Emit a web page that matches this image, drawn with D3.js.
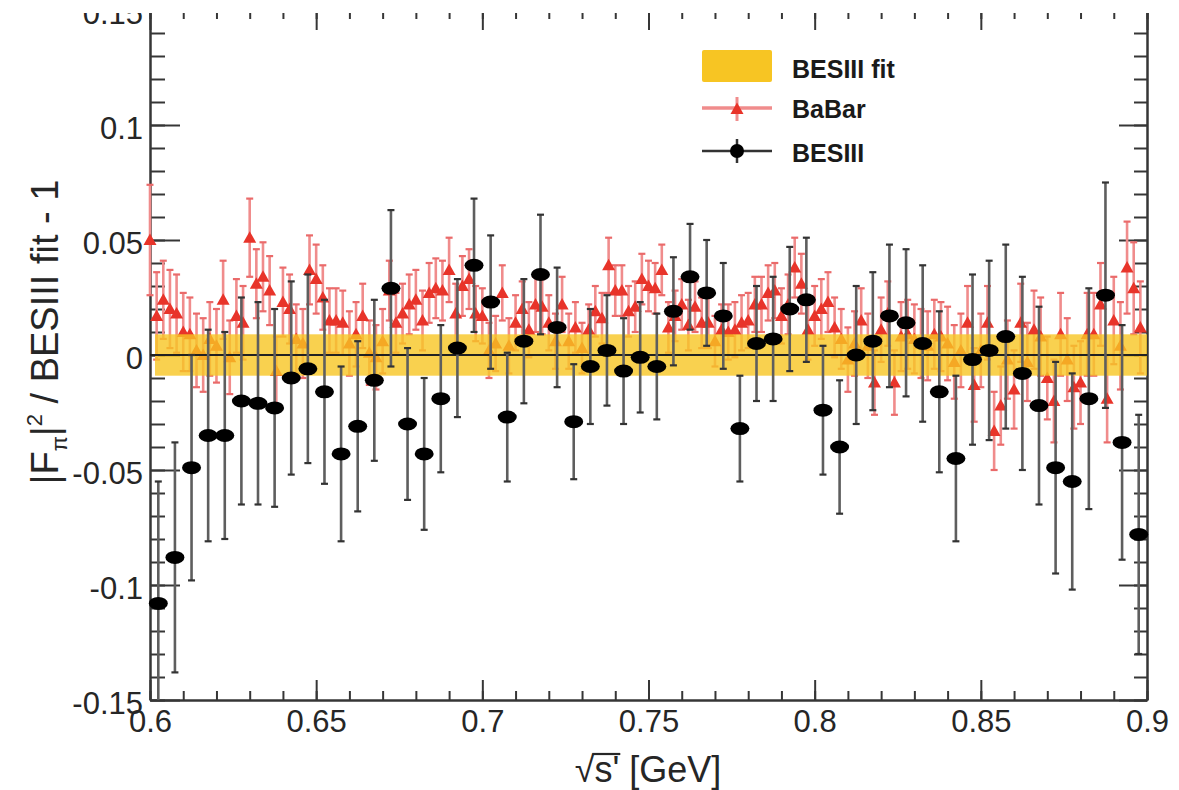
<!DOCTYPE html>
<html><head><meta charset="utf-8">
<script src="https://cdn.jsdelivr.net/npm/d3@7"></script>
<style>
html,body{margin:0;padding:0;background:#fff;}
svg{display:block;}
text{font-family:"Liberation Sans", Arial, Helvetica, sans-serif;}
</style></head><body>
<svg id="chart" width="1179" height="790"></svg>
<script>
// BESIII: bin centres [GeV], |F_pi|^2 / fit - 1, statistical error
const besiiiX = [0.6025,0.6075,0.6125,0.6175,0.6225,0.6275,0.6325,0.6375,0.6425,0.6475,
  0.6525,0.6575,0.6625,0.6675,0.6725,0.6775,0.6825,0.6875,0.6925,0.6975,
  0.7025,0.7075,0.7125,0.7175,0.7225,0.7275,0.7325,0.7375,0.7425,0.7475,
  0.7525,0.7575,0.7625,0.7675,0.7725,0.7775,0.7825,0.7875,0.7925,0.7975,
  0.8025,0.8075,0.8125,0.8175,0.8225,0.8275,0.8325,0.8375,0.8425,0.8475,
  0.8525,0.8575,0.8625,0.8675,0.8725,0.8775,0.8825,0.8875,0.8925,0.8975];
const besiiiY = [-0.108,-0.088,-0.049,-0.035,-0.035,-0.020,-0.021,-0.023,-0.010,-0.006,
  -0.016,-0.043,-0.031,-0.011,0.029,-0.030,-0.043,-0.019,0.003,0.039,
  0.023,-0.027,0.006,0.035,0.012,-0.029,-0.005,0.002,-0.007,-0.001,
  -0.005,0.019,0.034,0.027,0.017,-0.032,0.005,0.007,0.020,0.024,
  -0.024,-0.040,0.000,0.006,0.017,0.014,0.005,-0.016,-0.045,-0.002,
  0.002,0.008,-0.008,-0.022,-0.049,-0.055,-0.019,0.026,-0.038,-0.078];
const besiiiErr = [0.053,0.050,0.049,0.046,0.045,0.045,0.044,0.043,0.042,0.041,
  0.040,0.038,0.037,0.035,0.034,0.033,0.033,0.032,0.030,0.029,
  0.029,0.028,0.027,0.026,0.026,0.025,0.025,0.024,0.023,0.024,
  0.023,0.0235,0.023,0.023,0.023,0.023,0.025,0.027,0.027,0.027,
  0.028,0.029,0.030,0.030,0.031,0.032,0.034,0.035,0.036,0.037,
  0.039,0.040,0.042,0.043,0.046,0.047,0.048,0.049,0.051,0.052];

// BaBar: 2 MeV bins
const babarX = [0.600,0.602,0.604,0.606,0.608,0.610,0.612,0.614,0.616,0.618,
  0.620,0.622,0.624,0.626,0.628,0.630,0.632,0.634,0.636,0.638,
  0.640,0.642,0.644,0.646,0.648,0.650,0.652,0.654,0.656,0.658,
  0.660,0.662,0.664,0.666,0.668,0.670,0.672,0.674,0.676,0.678,
  0.680,0.682,0.684,0.686,0.688,0.690,0.692,0.694,0.696,0.698,
  0.700,0.702,0.704,0.706,0.708,0.710,0.712,0.714,0.716,0.718,
  0.720,0.722,0.724,0.726,0.728,0.730,0.732,0.734,0.736,0.738,
  0.740,0.742,0.744,0.746,0.748,0.750,0.752,0.754,0.756,0.758,
  0.760,0.762,0.764,0.766,0.768,0.770,0.772,0.774,0.776,0.778,
  0.780,0.782,0.784,0.786,0.788,0.790,0.792,0.794,0.796,0.798,
  0.800,0.802,0.804,0.806,0.808,0.810,0.812,0.814,0.816,0.818,
  0.820,0.822,0.824,0.826,0.828,0.830,0.832,0.834,0.836,0.838,
  0.840,0.842,0.844,0.846,0.848,0.850,0.852,0.854,0.856,0.858,
  0.860,0.862,0.864,0.866,0.868,0.870,0.872,0.874,0.876,0.878,
  0.880,0.882,0.884,0.886,0.888,0.890,0.892,0.894,0.896,0.898];
const babarY = [0.050,0.017,0.024,0.020,0.018,0.010,0.009,0.002,0.000,0.007,
  0.004,0.024,-0.001,0.017,0.014,0.051,0.031,0.034,0.028,-0.007,
  0.023,0.020,0.007,0.005,0.037,0.033,0.025,0.015,0.015,0.014,
  0.005,0.009,0.017,0.001,-0.001,0.006,0.028,0.014,0.018,0.022,
  0.024,0.015,0.027,0.029,0.028,0.037,0.018,0.030,0.033,0.018,
  0.017,0.002,0.005,0.027,0.004,0.014,0.020,0.011,0.022,0.021,
  0.014,0.006,0.022,0.006,0.012,0.003,0.011,0.019,0.016,0.039,
  0.028,0.028,0.019,0.021,0.033,0.030,0.029,0.037,0.012,0.017,
  0.022,0.013,0.021,0.014,0.014,0.006,0.011,0.010,0.011,0.014,
  0.015,0.022,0.022,0.027,0.028,0.017,0.022,0.038,0.031,0.011,
  0.017,0.020,0.023,0.012,0.007,-0.002,0.005,0.015,0.004,-0.012,
  0.011,0.018,-0.012,0.008,0.009,0.007,0.005,0.004,0.009,0.008,
  0.005,-0.003,0.002,0.014,-0.013,0.002,0.014,-0.033,-0.022,-0.002,
  -0.015,0.014,-0.003,0.011,0.008,-0.010,-0.020,0.009,-0.002,-0.014,
  -0.012,0.009,0.009,0.022,-0.019,0.015,0.004,0.038,0.029,0.012];
const babarErr = [0.024,0.019,0.017,0.017,0.017,0.017,0.016,0.016,0.016,0.016,
  0.016,0.017,0.016,0.016,0.016,0.017,0.015,0.015,0.015,0.015,
  0.015,0.015,0.015,0.015,0.015,0.015,0.014,0.014,0.014,0.014,
  0.014,0.014,0.014,0.014,0.014,0.014,0.013,0.013,0.013,0.013,
  0.013,0.013,0.013,0.013,0.013,0.014,0.013,0.013,0.013,0.012,
  0.012,0.012,0.012,0.012,0.012,0.012,0.012,0.012,0.012,0.012,
  0.012,0.012,0.012,0.012,0.011,0.011,0.011,0.011,0.011,0.012,
  0.011,0.011,0.011,0.011,0.011,0.011,0.011,0.011,0.011,0.011,
  0.011,0.011,0.011,0.011,0.011,0.011,0.011,0.012,0.012,0.012,
  0.012,0.012,0.012,0.012,0.012,0.012,0.013,0.013,0.013,0.013,
  0.013,0.013,0.013,0.013,0.013,0.014,0.014,0.014,0.014,0.014,
  0.014,0.014,0.014,0.015,0.015,0.015,0.015,0.015,0.015,0.015,
  0.016,0.016,0.016,0.016,0.016,0.016,0.016,0.017,0.017,0.017,
  0.017,0.017,0.017,0.017,0.017,0.018,0.018,0.018,0.018,0.018,
  0.018,0.018,0.018,0.018,0.019,0.019,0.019,0.020,0.020,0.020];

// BESIII fit uncertainty band
const bandRange = [0.6015, 0.9];
const bandHalfWidth = [0.009];

const xTicks = [0.6,0.65,0.7,0.75,0.8,0.85,0.9];
const xTickLabels = ["0.6","0.65","0.7","0.75","0.8","0.85","0.9"];
const yTicks = [-0.15,-0.1,-0.05,0,0.05,0.1,0.15];
const yTickLabels = ["-0.15","-0.1","-0.05","0","0.05","0.1","0.15"];
const legendLabels = ["BESIII fit","BaBar","BESIII"];

const W = 1179, H = 790;
const svg = d3.select("#chart");
const x = d3.scaleLinear().domain([0.6, 0.9]).range([150, 1147]);
const y = d3.scaleLinear().domain([-0.15, 0.15]).range([700, 10]);

const AX = "#363636", TXT = "#262626";
const YELLOW = "#f7c523", RED = "#e8342a", PINK = "#f08c8c";

const xMinor = d3.range(0, 31).map(i => 0.6 + i * 0.01);
const yMinor = d3.range(0, 31).map(i => -0.15 + i * 0.01);

function styleAxis(g) {
  g.selectAll("path.domain").attr("stroke", AX).attr("stroke-width", 2);
  g.selectAll(".tick line").attr("stroke", AX).attr("stroke-width", 2);
  g.selectAll(".tick text").attr("fill", TXT).style("font-size", "31px")
    .style("font-family", '"Liberation Sans", Arial, sans-serif');
}

// ---- axes (minor ticks first, then major ticks with labels)
const axes = svg.append("g");
axes.append("g").attr("transform", `translate(0,${y(-0.15)})`)
  .call(d3.axisBottom(x).tickValues(xMinor).tickSize(-9).tickSizeOuter(0).tickFormat(""))
  .call(styleAxis);
axes.append("g").attr("transform", `translate(0,${y(-0.15)})`)
  .call(d3.axisBottom(x).tickValues(xTicks).tickSize(-20).tickSizeOuter(0).tickPadding(10)
    .tickFormat((d, i) => xTickLabels[i]))
  .call(styleAxis);
axes.append("g").attr("transform", `translate(0,${y(0.15)})`)
  .call(d3.axisTop(x).tickValues(xMinor).tickSize(-9).tickSizeOuter(0).tickFormat(""))
  .call(styleAxis);
axes.append("g").attr("transform", `translate(0,${y(0.15)})`)
  .call(d3.axisTop(x).tickValues(xTicks).tickSize(-20).tickSizeOuter(0).tickFormat(""))
  .call(styleAxis);
axes.append("g").attr("transform", `translate(${x(0.6)},0)`)
  .call(d3.axisLeft(y).tickValues(yMinor).tickSize(-15).tickSizeOuter(0).tickFormat(""))
  .call(styleAxis);
axes.append("g").attr("transform", `translate(${x(0.6)},0)`)
  .call(d3.axisLeft(y).tickValues(yTicks).tickSize(-30).tickSizeOuter(0).tickPadding(7)
    .tickFormat((d, i) => yTickLabels[i]))
  .call(styleAxis)
  .call(g => g.selectAll(".tick text").attr("dy", "0.42em"));
axes.append("g").attr("transform", `translate(${x(0.9)},0)`)
  .call(d3.axisRight(y).tickValues(yMinor).tickSize(-13).tickSizeOuter(0).tickFormat(""))
  .call(styleAxis);
axes.append("g").attr("transform", `translate(${x(0.9)},0)`)
  .call(d3.axisRight(y).tickValues(yTicks).tickSize(-28).tickSizeOuter(0).tickFormat(""))
  .call(styleAxis);

// ---- BaBar points
const babar = babarX.map((d, i) => ({x: d, y: babarY[i], e: babarErr[i]}));
const gB = svg.append("g");
gB.selectAll("line.bar").data(babar).join("line")
  .attr("x1", d => x(d.x)).attr("x2", d => x(d.x))
  .attr("y1", d => y(d.y + d.e)).attr("y2", d => y(d.y - d.e))
  .attr("stroke", PINK).attr("stroke-width", 2.6);
["top", "bot"].forEach(side => {
  gB.selectAll("line.cap-" + side).data(babar).join("line")
    .attr("x1", d => x(d.x) - 3.5).attr("x2", d => x(d.x) + 3.5)
    .attr("y1", d => y(side === "top" ? d.y + d.e : d.y - d.e))
    .attr("y2", d => y(side === "top" ? d.y + d.e : d.y - d.e))
    .attr("stroke", "#ea6a6a").attr("stroke-width", 2.2);
});
const tri = (cx, cy) => `M${cx - 6.5},${cy + 5}L${cx + 6.5},${cy + 5}L${cx},${cy - 6.5}Z`;
gB.selectAll("path.tri").data(babar).join("path")
  .attr("d", d => tri(x(d.x), y(d.y))).attr("fill", RED);

// ---- BESIII fit band + zero line
svg.append("rect")
  .attr("x", x(bandRange[0])).attr("width", x(bandRange[1]) - x(bandRange[0]))
  .attr("y", y(bandHalfWidth[0])).attr("height", y(-bandHalfWidth[0]) - y(bandHalfWidth[0]))
  .attr("fill", YELLOW).attr("fill-opacity", 0.8);
svg.append("line").attr("x1", x(0.6)).attr("x2", x(0.9)).attr("y1", y(0)).attr("y2", y(0))
  .attr("stroke", "#222").attr("stroke-width", 2);

// ---- BESIII points
const bes = besiiiX.map((d, i) => ({x: d, y: besiiiY[i], e: besiiiErr[i]}));
const gS = svg.append("g");
gS.selectAll("line.bar").data(bes).join("line")
  .attr("x1", d => x(d.x)).attr("x2", d => x(d.x))
  .attr("y1", d => y(Math.min(d.y + d.e, 0.15))).attr("y2", d => y(Math.max(d.y - d.e, -0.15)))
  .attr("stroke", "#5e5e5e").attr("stroke-width", 2.6);
gS.selectAll("line.capT").data(bes.filter(d => d.y + d.e < 0.15)).join("line")
  .attr("x1", d => x(d.x) - 3.5).attr("x2", d => x(d.x) + 3.5)
  .attr("y1", d => y(d.y + d.e)).attr("y2", d => y(d.y + d.e))
  .attr("stroke", "#333").attr("stroke-width", 2.2);
gS.selectAll("line.capB").data(bes.filter(d => d.y - d.e > -0.15)).join("line")
  .attr("x1", d => x(d.x) - 3.5).attr("x2", d => x(d.x) + 3.5)
  .attr("y1", d => y(d.y - d.e)).attr("y2", d => y(d.y - d.e))
  .attr("stroke", "#333").attr("stroke-width", 2.2);
gS.selectAll("ellipse").data(bes).join("ellipse")
  .attr("cx", d => x(d.x)).attr("cy", d => y(d.y)).attr("rx", 9.5).attr("ry", 6.5)
  .attr("fill", "#000");

// ---- legend
const lg = svg.append("g");
lg.append("rect").attr("x", 702).attr("y", 50).attr("width", 70).attr("height", 32)
  .attr("rx", 2).attr("fill", YELLOW);
lg.append("line").attr("x1", 702).attr("x2", 772).attr("y1", 108).attr("y2", 108)
  .attr("stroke", PINK).attr("stroke-width", 3.5);
lg.append("line").attr("x1", 737).attr("x2", 737).attr("y1", 97).attr("y2", 121)
  .attr("stroke", PINK).attr("stroke-width", 3);
lg.append("path").attr("d", tri(737, 109)).attr("fill", RED);
lg.append("line").attr("x1", 702).attr("x2", 772).attr("y1", 151).attr("y2", 151)
  .attr("stroke", "#333").attr("stroke-width", 2.5);
lg.append("line").attr("x1", 737).attr("x2", 737).attr("y1", 139).attr("y2", 163)
  .attr("stroke", "#333").attr("stroke-width", 2.5);
lg.append("circle").attr("cx", 737).attr("cy", 151).attr("r", 7).attr("fill", "#000");
lg.selectAll("text").data(legendLabels).join("text")
  .attr("x", 792).attr("y", (d, i) => [78, 118, 162][i])
  .attr("fill", "#1a1a1a").style("font-size", "25px").style("font-weight", "bold")
  .text(d => d);

// ---- axis titles
const xt = svg.append("text").attr("x", 648).attr("y", 782).attr("text-anchor", "middle")
  .attr("fill", TXT).style("font-size", "36px").text("\u221As' [GeV]");
// overbar of the square root over s'
{
  const n = xt.node();
  const r0 = n.getExtentOfChar(0), r2 = n.getExtentOfChar(2);
  svg.append("line").attr("x1", r0.x + r0.width - 2).attr("x2", r2.x + r2.width + 1)
    .attr("y1", r0.y + 5).attr("y2", r0.y + 5).attr("stroke", TXT).attr("stroke-width", 2.2);
}
const yt = svg.append("text").attr("transform", "translate(58,332) rotate(-90)")
  .attr("text-anchor", "middle").attr("fill", TXT).style("font-size", "38px");
yt.append("tspan").text("|F");
yt.append("tspan").attr("dy", 9).style("font-size", "22px").text("\u03C0");
yt.append("tspan").attr("dy", -9).text("|");
yt.append("tspan").attr("dy", -16).style("font-size", "22px").text("2");
yt.append("tspan").attr("dy", 16).text(" / BESIII fit - 1");

// the figure is trimmed just below its top frame edge
svg.append("rect").attr("x", 0).attr("y", 0).attr("width", W).attr("height", 13).attr("fill", "#fff");
</script>
</body></html>
